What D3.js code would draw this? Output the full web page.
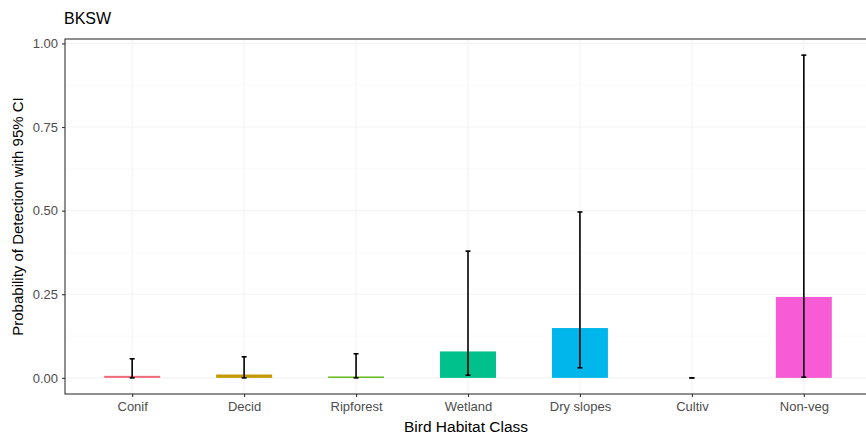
<!DOCTYPE html>
<html>
<head>
<meta charset="utf-8">
<script src="https://cdn.jsdelivr.net/npm/d3@7"></script>
<style>
  html, body { margin: 0; padding: 0; background: #fff; }
  svg { display: block; font-family: "Liberation Sans", Arial, sans-serif; }
</style>
</head>
<body>
<svg id="chart" width="866" height="438"></svg>
<script>
// Detection probability per habitat class, with 95% confidence limits
const categories = ["Conif", "Decid", "Ripforest", "Wetland", "Dry slopes", "Cultiv", "Non-veg"];
const estimate   = [0.006, 0.010, 0.004, 0.079, 0.149, 0.000, 0.242];
const lower      = [0.000, 0.000, 0.000, 0.008, 0.030, 0.000, 0.002];
const upper      = [0.057, 0.063, 0.072, 0.379, 0.496, 0.000, 0.965];
const colors     = ["#F06A78", "#C49A00", "#53B400", "#00C08B", "#00B6EB", "#A58AFF", "#F75BD5"];
const yTicks     = [0, 0.25, 0.5, 0.75, 1.0];

const rows = categories.map((c, i) => ({
  cat: c, est: estimate[i], lo: lower[i], hi: upper[i], col: colors[i]
}));

const svg = d3.select("#chart");
const panel = { left: 65, top: 39, right: 871, bottom: 394 };

// Discrete x scale with 0.6 unit padding on each side
const x = d3.scalePoint()
  .domain(categories)
  .range([panel.left, panel.right])
  .padding(0.6);
const step = x.step();

// Continuous y scale, padded 5% beyond the data range
const yMax = d3.max(upper);
const pad = 0.05 * yMax;
const y = d3.scaleLinear()
  .domain([-pad, yMax + pad])
  .range([panel.bottom, panel.top]);

// Panel background grid
const grid = svg.append("g");
const minorY = yTicks.slice(0, -1).map((t, i) => (t + yTicks[i + 1]) / 2);
grid.selectAll("line.minor-y").data(minorY).join("line")
  .attr("x1", panel.left).attr("x2", panel.right)
  .attr("y1", d => y(d)).attr("y2", d => y(d))
  .attr("stroke", "#f7f7f7").attr("stroke-width", 0.6);
grid.selectAll("line.major-y").data(yTicks).join("line")
  .attr("x1", panel.left).attr("x2", panel.right)
  .attr("y1", d => y(d)).attr("y2", d => y(d))
  .attr("stroke", "#f3f3f3").attr("stroke-width", 1.1);
grid.selectAll("line.major-x").data(categories).join("line")
  .attr("x1", d => x(d)).attr("x2", d => x(d))
  .attr("y1", panel.top).attr("y2", panel.bottom)
  .attr("stroke", "#f3f3f3").attr("stroke-width", 1.1);

// Bars
const barW = step * 0.5;
svg.append("g").selectAll("rect").data(rows).join("rect")
  .attr("x", d => x(d.cat) - barW / 2)
  .attr("width", barW)
  .attr("y", d => y(d.est))
  .attr("height", d => Math.max(0, y(0) - y(d.est)))
  .attr("fill", d => d.col);

// Error bars
const capW = 2.5;
const eb = svg.append("g").attr("stroke", "#000").attr("stroke-width", 1.6);
eb.selectAll("line.stem").data(rows).join("line")
  .attr("x1", d => x(d.cat)).attr("x2", d => x(d.cat))
  .attr("y1", d => y(d.lo)).attr("y2", d => y(d.hi));
eb.selectAll("line.captop").data(rows).join("line")
  .attr("x1", d => x(d.cat) - capW).attr("x2", d => x(d.cat) + capW)
  .attr("y1", d => y(d.hi)).attr("y2", d => y(d.hi));
eb.selectAll("line.capbot").data(rows).join("line")
  .attr("x1", d => x(d.cat) - capW).attr("x2", d => x(d.cat) + capW)
  .attr("y1", d => y(d.lo)).attr("y2", d => y(d.lo));

// Panel border
svg.append("rect")
  .attr("x", panel.left).attr("y", panel.top)
  .attr("width", panel.right - panel.left)
  .attr("height", panel.bottom - panel.top)
  .attr("fill", "none").attr("stroke", "#333").attr("stroke-width", 1.1);

// Axes
const yAxis = svg.append("g")
  .attr("transform", `translate(${panel.left},0)`)
  .call(d3.axisLeft(y).tickValues(yTicks).tickFormat(d3.format(".2f")).tickSize(3).tickPadding(4));
const xAxis = svg.append("g")
  .attr("transform", `translate(0,${panel.bottom})`)
  .call(d3.axisBottom(x).tickSize(3).tickPadding(5));
[yAxis, xAxis].forEach(g => {
  g.select(".domain").remove();
  g.selectAll(".tick line").attr("stroke", "#333").attr("stroke-width", 1.1);
  g.selectAll(".tick text").attr("fill", "#4d4d4d").style("font-size", "13px")
    .style("font-family", "'Liberation Sans', Arial, sans-serif");
});

// Titles
svg.append("text")
  .attr("x", 64).attr("y", 24)
  .style("font-size", "16px").attr("fill", "#000")
  .text("BKSW");
svg.append("text")
  .attr("x", (panel.left + panel.right) / 2 - 2).attr("y", 432)
  .attr("text-anchor", "middle")
  .style("font-size", "15.5px").attr("fill", "#000")
  .text("Bird Habitat Class");
svg.append("text")
  .attr("transform", `translate(23,${(panel.top + panel.bottom) / 2}) rotate(-90)`)
  .attr("text-anchor", "middle")
  .style("font-size", "15px").attr("fill", "#000")
  .text("Probability of Detection with 95% CI");
</script>
</body>
</html>
